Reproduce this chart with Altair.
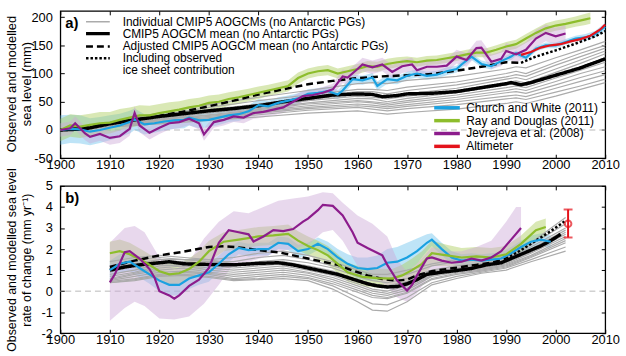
import altair as alt
import pandas as pd

FONT = "Liberation Sans"
W, H = 551, 149

# ---------------- categories / styling ----------------
OBS = ["Church and White (2011)", "Ray and Douglas (2011)", "Jevrejeva et al. (2008)", "Altimeter"]
OBS_COL = ["#1aa1e1", "#8dbd2c", "#8c1c8c", "#e4131b"]
BAND_OBS = OBS[:3]
BAND_COL = ["#6ec3ee", "#aacb5a", "#cda9d8"]
MODEL = ["Individual CMIP5 AOGCMs (no Antarctic PGs)", "CMIP5 AOGCM mean (no Antarctic PGs)",
         "Adjusted CMIP5 AOGCM mean (no Antarctic PGs)", "Including observed", "ice sheet contribution"]
MODEL_COL = ["#ababab", "black", "black", "black", "transparent"]
MODEL_DASH = [[1, 0], [1, 0], [7, 4], [2.5, 2], [1, 0]]
MODEL_W = [1.5, 3.5, 2.5, 2.5, 0]
GRAY = "#ababab"
X_TICKS = list(range(1900, 2011, 10))
YA_TICKS = [-50, 0, 50, 100, 150, 200]
YB_TICKS = [-2, -1, 0, 1, 2, 3, 4, 5]
TITLE_A = ["Observed and modelled", "sea level (mm)"]
TITLE_B = ["Observed and modelled sea level", "rate of change (mm yr\u207b\u00b9)"]

# ---------------- panel a data (mm) ----------------
CW_A_YEARS = [1900,1902,1904,1906,1908,1910,1912,1914,1915,1917,1919,1921,1923,1925,1926,1928,1930,1932,1934,1936,
              1938,1940,1942,1944,1946,1948,1950,1952,1954,1956,1957,1959,1961,1963,1964,1966,1968,1970,1972,1974,
              1976,1978,1980,1981,1983,1985,1987,1989,1991,1992,1994,1996,1998,2000,2002,2004,2006,2008,2010]
CW_A = [0,2,1,-3,0, 4,8,14,19,10, 12,15,17,18,22, 17,18,22,26,28, 33,44,42,48,52, 56,64,66,69,63,
        70,90,88,93,78, 90,88,96,100,96, 98,104,108,116,130, 117,113,122,130,136, 128,144,150,150,156, 162,164,170,183]
CW_A_ERR = [26,25,25,24,23, 22,21,20,19,18, 17,16,15,15,14, 14,13,13,12,12, 11,11,10,10,9, 9,8,8,8,8,
            8,8,8,8,8, 8,7,7,7,7, 7,7,6,6,6, 6,6,6,6,5, 5,5,5,5,5, 5,6,6,7]

RD_A_YEARS = [1900,1902,1904,1906,1908,1910,1912,1914,1916,1918,1920,1922,1924,1926,1928,1930,1932,1934,1936,1938,
              1940,1942,1944,1946,1948,1950,1952,1954,1956,1958,1960,1962,1964,1966,1968,1970,1972,1974,1976,1978,
              1980,1982,1984,1986,1988,1990,1992,1994,1996,1998,2000,2002,2004,2006,2007]
RD_A = [0,8,6,9,12, 13,18,22,26,26, 30,33,36,40,43, 48,50,55,58,62, 66,70,74,78,92, 100,104,106,100,104,
        108,113,112,117,120, 122,120,123,124,127, 130,134,137,137,142, 148,152,162,172,180, 185,188,192,196,198]
RD_A_ERR = [20,20,20,20,20, 19,19,18,18,17, 16,16,15,15,14, 13,13,12,12,11, 11,10,10,10,10, 9,9,9,9,9,
            9,9,9,9,9, 8,8,8,8,8, 8,8,8,8,8, 8,8,8,8,9, 9,9,9,10,10]

JV_A_YEARS = [1900,1902,1903,1905,1906,1908,1910,1912,1914,1915, 1916,1918,1920,1922,1924,1926,1928,1929,
              1931,1933,1935,1937,1939,1941,1943,1945,1947,1949, 1951,1953,1955,1957,1958,1960,1961,1963,1965,1967,
              1969,1971,1972,1974,1976,1978,1980,1982,1984,1985, 1987,1989,1990,1992,1994,1996,1998,2000,2002]
JV_A = [0,3,12,-6,-12,-7,-14,-11,2,30, 8,-5,4,12,14,20,12,-8, 14,18,24,22,30,32,36,40,50,60,
        62,66,72,95,93,108,116,111,116,103, 113,116,106,112,112,114,130,124,145,146, 121,126,140,134,142,162,172,166,171]
JV_A_ERR = [12,12,12,12,12,12,12,12,12,12, 12,12,11,11,11,11,11,11, 10,10,10,10,10,10,10,10,10,10,
            10,10,10,12,12,12,12,12,12,12, 12,12,12,12,12,12,12,12,13,13, 13,13,14,14,14,15,15,15,15]

ALT_YEARS = [1993,1995,1997,1999,2001,2003,2005,2007,2009,2010]
ALT_A = [133,138,146,150,152,157,161,167,178,187]

MEAN_A_YEARS = [1900,1905,1910,1915,1920,1925,1930,1935,1940,1945,1950,1955,1960,1963,1965,1968,1970,1975,1980,1985,
                1990,1991,1993,1995,2000,2005,2010]
MEAN_A = [0,2,11,18,24,29,34,38,43,50,56,62,64,63,59,61,64,65,68,75,82,84,80,84,97,110,126]
ADJ_A_YEARS = [1900,1905,1910,1915,1920,1925,1930,1935,1940,1945,1950,1955,1960,1965,1970,1975,1980,1985,1990,1993]
ADJ_A = [0,4,12,18,25,33,42,52,63,72,81,87,92,95,97,99,105,112,120,119]
ICE_A_YEARS = [1993,1996,2000,2004,2008,2010]
ICE_A = [119,130,141,153,166,175]

GRAY_A_YEARS = [1900,1910,1920,1930,1940,1950,1960,1963,1966,1970,1980,1990,1992,1994,2000,2005,2010]
GRAY_A = [
    [0,14,30,45,58,70,82,84,82,88,95,108,112,110,128,142,157],
    [0,12,26,40,52,62,72,72,70,76,85,100,104,100,120,136,150],
    [0,13,24,36,46,58,68,68,64,70,80,94,98,95,115,130,145],
    [0,10,22,33,42,54,63,62,58,64,74,90,93,89,108,124,140],
    [0,11,23,32,40,52,60,58,55,60,70,84,87,83,102,118,135],
    [0,9,20,30,38,48,56,55,50,56,66,80,82,79,96,112,128],
    [0,8,18,27,36,46,52,50,47,52,62,75,78,75,92,106,120],
    [0,10,19,26,34,43,50,48,44,49,58,70,73,70,86,100,112],
    [0,7,16,24,32,40,46,44,41,45,54,66,68,65,80,93,105],
    [0,8,15,22,30,38,43,41,38,42,50,60,62,59,74,86,98],
    [0,6,13,20,27,35,40,37,34,38,45,55,57,54,67,78,90],
    [0,5,11,17,23,30,34,31,28,31,37,47,50,47,60,72,84],
]

# ---------------- panel b data (mm/yr) ----------------
CW_B_YEARS = [1910,1912,1914,1916,1918,1920,1922,1924,1926,1928,1930,1932,1934,1936,1938,1940,1942,1944,1946,1948,
              1950,1952,1954,1956,1958,1960,1962,1964,1966,1968,1970,1972,1974,1975,1977,1979,1981,1983,1985,1987,
              1989,1991,1993,1995,1997,1999]
CW_B = [1.0,1.3,1.4,1.1,0.8, 0.5,0.3,0.3,0.6,0.75, 0.9,1.3,1.75,2.05,1.95, 2.0,2.0,2.3,2.25,1.9,
        2.0,2.25,2.0,1.6,1.3, 1.1,1.05,1.1,1.35,1.4, 1.6,1.9,2.3, 2.45,2.0,1.6,1.45,1.5,
        1.45,1.5,1.55,1.8,2.1, 2.35,2.45,2.35]
CW_B_ERR = [0.45,0.45,0.45,0.45,0.45, 0.5,0.5,0.5,0.5,0.45, 0.45,0.4,0.35,0.3,0.3, 0.3,0.3,0.3,0.3,0.3,
            0.3,0.3,0.35,0.4,0.45, 0.5,0.55,0.6,0.65,0.7, 0.7,0.6,0.4, 0.3,0.3,0.3,0.3,0.3,
            0.3,0.3,0.3,0.3,0.3, 0.3,0.3,0.3]

RD_B_YEARS = [1910,1912,1914,1917,1920,1922,1924,1926,1928,1930,1933,1936,1940,1943,1946,1948,1950,1952,1954,1956,
              1958,1961,1964,1967,1969,1971,1973,1975,1978,1981,1984,1987,1990,1993,1996,1998]
RD_B = [1.8,1.9,1.75,1.4,0.95,0.8,0.85,1.05,1.4,1.9, 2.35,2.45,2.6,2.65,2.72,2.4,2.15,1.95,1.7,1.3,
        0.9,0.68,0.62,0.6,0.75,1.0,1.3,1.8,1.7,1.6, 1.65,1.6,1.75,2.25,2.9,3.05]
RD_B_ERR = [0.55,0.55,0.55,0.5,0.5,0.5,0.5,0.5,0.5,0.5, 0.45,0.45,0.45,0.45,0.45,0.45,0.45,0.45,0.45,0.45,
            0.45,0.45,0.45,0.45,0.5,0.55,0.6,0.6,0.5,0.45, 0.45,0.45,0.4,0.4,0.4,0.4]

JV_B_YEARS = [1910,1911,1913,1914,1916,1918,1919,1920,1922,1923, 1924,1926,1928,1930,1931,1932,1934,1936,1938,1939,
              1941,1943,1945,1947,1949,1950,1952,1953,1955,1957, 1959,1960,1962,1965,1966,1968,1970,1971,1972,1974,
              1975,1977,1979,1981,1983,1985,1987,1989,1991,1993]
JV_B = [0.42,0.8,1.85,1.9,1.55,1.05,0.65,0.0,-0.2,-0.36, -0.2,0.25,0.55,1.1,1.7,2.3,2.9,2.8,2.7,2.36,
        2.6,2.9,2.85,2.95,3.3,3.45,3.85,4.1,4.05,3.6, 2.8,2.3,2.05,1.7,1.25,0.5,0.03,0.3,0.75,1.55,
        1.6,1.45,1.35,1.4,1.55,1.45,1.6,1.9,2.45,3.0]
JV_BAND_YEARS = [1910,1913,1915,1917,1920,1923,1926,1929,1932,1935,1938,1941,1944,1947,1950,1953,1955,1957,1960,1963,
                 1966,1968,1970,1972,1975,1978,1981,1984,1987,1990,1992,1993]
JV_BAND_LO = [-1.4,-0.8,-0.5,-0.7,-1.3,-1.35,-1.2,-0.6,0.3,1.3,1.4,1.6,1.9,2.0,2.2,2.8,2.9,2.4,1.2,0.8,
              0.2,-0.3,-0.5,-0.1,0.9,0.9,0.9,0.9,1.0,1.4,1.8,2.0]
JV_BAND_HI = [2.3,3.0,3.1,2.8,1.6,1.0,1.4,2.5,3.3,3.8,3.7,4.0,4.3,4.4,4.5,4.7,4.65,4.2,3.6,3.2,
              2.6,1.5,0.9,1.3,2.1,1.9,1.9,2.1,2.4,3.3,4.0,4.0]

MEAN_B_YEARS = [1910,1913,1916,1920,1922,1925,1930,1935,1940,1944,1947,1950,1953,1956,1958,1960,1962,1964,1966,1968,
                1970,1972,1974,1977,1980,1983,1986,1989,1991,1994,1997,1999,2001]
MEAN_B = [1.0,1.15,1.25,1.35,1.4,1.3,1.27,1.25,1.32,1.35,1.25,1.1,0.95,0.8,0.65,0.5,0.35,0.25,0.2,0.22,
          0.35,0.55,0.8,0.9,0.98,1.08,1.25,1.35,1.55,1.85,2.15,2.4,2.7]
ADJ_B_YEARS = [1910,1915,1920,1925,1930,1933,1936,1940,1944,1947,1950,1953,1956,1959,1962,1965,1968,1970,1972,1975,
               1978,1981,1984,1987,1990]
ADJ_B = [1.15,1.45,1.7,1.88,2.1,2.13,2.08,1.95,1.85,1.7,1.55,1.4,1.25,0.98,0.75,0.58,0.5,0.55,0.75,0.95,
         1.05,1.15,1.25,1.35,1.55]
ICE_B_YEARS = [1990,1993,1996,1999,2002]
ICE_B = [1.55,1.95,2.4,2.85,3.35]

GRAY_B_YEARS = [1910,1915,1920,1925,1930,1935,1940,1945,1950,1955,1960,1963,1966,1970,1975,1980,1985,1990,1995,2002]
GRAY_B = [
    [1.4,1.6,1.7,1.6,1.5,1.6,1.8,1.9,1.7,1.4,1.0,0.8,0.8,1.0,1.3,1.5,1.6,1.7,2.3,3.5],
    [1.2,1.5,1.6,1.5,1.4,1.4,1.6,1.7,1.5,1.2,0.85,0.7,0.6,0.8,1.2,1.4,1.5,1.6,2.2,3.2],
    [1.1,1.3,1.5,1.5,1.5,1.3,1.4,1.5,1.35,1.1,0.7,0.5,0.4,0.6,1.0,1.2,1.3,1.5,2.1,3.0],
    [0.9,1.2,1.4,1.4,1.3,1.2,1.3,1.4,1.2,0.95,0.55,0.35,0.25,0.45,0.95,1.1,1.25,1.45,2.0,2.9],
    [0.8,1.0,1.3,1.3,1.2,1.1,1.2,1.3,1.1,0.85,0.45,0.25,0.15,0.35,0.9,1.05,1.2,1.4,1.9,2.8],
    [0.7,0.9,1.2,1.25,1.1,1.0,1.1,1.2,1.0,0.75,0.35,0.1,0.0,0.25,0.8,1.0,1.15,1.35,1.85,2.7],
    [0.6,0.85,1.1,1.2,1.0,0.9,1.0,1.1,0.9,0.65,0.25,0.0,-0.1,0.15,0.75,0.95,1.1,1.3,1.8,2.6],
    [0.55,0.8,1.0,1.1,0.9,0.8,0.9,1.0,0.85,0.55,0.15,-0.1,-0.2,0.05,0.7,0.9,1.05,1.25,1.7,2.5],
    [0.5,0.7,0.9,0.95,0.85,0.7,0.8,0.9,0.75,0.45,0.05,-0.2,-0.3,-0.05,0.6,0.85,1.0,1.2,1.65,2.4],
    [0.45,0.6,0.8,0.9,0.8,0.6,0.7,0.8,0.65,0.35,-0.05,-0.3,-0.35,-0.1,0.55,0.8,0.95,1.15,1.6,2.3],
    [0.4,0.55,0.75,0.8,0.7,0.55,0.6,0.7,0.6,0.25,-0.3,-0.6,-0.65,-0.3,0.4,0.7,0.9,1.1,1.5,2.1],
    [0.4,0.5,0.7,0.75,0.65,0.5,0.55,0.6,0.5,0.1,-0.5,-0.9,-0.95,-0.5,0.3,0.6,0.85,1.0,1.4,1.9],
]

ALT_RATE_YEAR = [2002.5]
ALT_RATE = [3.2]
ALT_RATE_LO = [2.55]
ALT_RATE_HI = [3.88]


# ---------------- helpers to build tables ----------------
def line_df(years, vals, **cols):
    d = pd.DataFrame({"year": years, "v": vals})
    for k, c in cols.items():
        d[k] = c
    return d


def band_df(years, vals, errs, name):
    d = pd.DataFrame({"year": years, "v": vals, "e": errs})
    d["lo"] = d["v"] - d["e"]
    d["hi"] = d["v"] + d["e"]
    d["obs"] = name
    return d


def gray_df(years, rows):
    return pd.concat([line_df(years, r, model=f"m{i}") for i, r in enumerate(rows)], ignore_index=True)


XS = alt.Scale(domain=[1900, 2010], nice=False, zero=False)
YA = alt.Scale(domain=[-50, 211], nice=False, zero=False)
YB = alt.Scale(domain=[-2, 5], nice=False, zero=False)

AX_BOTTOM = alt.Axis(orient="bottom", values=X_TICKS, format="d", labelPadding=0.5, labelFlush=False, title=None)
AX_TOP = alt.Axis(orient="top", values=X_TICKS, labels=False, title=None)


def left_axis(ticks):
    return alt.Axis(orient="left", values=ticks, labelExpr="'' + datum.value", labelPadding=8,
                    labelFlush=False, title=None)


def right_axis(ticks):
    return alt.Axis(orient="right", values=ticks, labels=False, title=None)


# long thin legend symbols: a wide path drawn on a small symbol size keeps the rows tight
LEG_MODEL = alt.Legend(orient="none", legendX=32, legendY=5, title=None, symbolType="M-3,0H3",
                       symbolSize=64, labelFontSize=12, rowPadding=-1, labelOffset=19, labelLimit=0,
                       padding=0)
LEG_OBS = alt.Legend(orient="none", legendX=385, legendY=92, title=None, symbolType="M-3.7,0H3.7",
                     symbolSize=49, symbolStrokeWidth=3.5, labelFontSize=12, rowPadding=-1.2,
                     labelOffset=13.5, labelLimit=0, padding=0)


def text_at(txt, x, y, **kw):
    return alt.Chart(pd.DataFrame({"t": [txt]})).mark_text(font=FONT, color="black", **kw).encode(
        text="t:N", x=alt.value(x), y=alt.value(y))


def panel(yscale, yticks, ytitle, title_y, title_size, bands, grays, models, obs, tag, show_legend, extra=()):
    zero = alt.Chart(pd.DataFrame({"z": [0]})).mark_rule(
        color="#b8b8b8", strokeDash=[6, 4], strokeWidth=1).encode(
        y=alt.Y("z:Q", scale=yscale, axis=None))
    band_layer = alt.Chart(bands).mark_area(opacity=0.45).encode(
        x=alt.X("year:Q", scale=XS, axis=AX_BOTTOM),
        y=alt.Y("lo:Q", scale=yscale, axis=left_axis(yticks)),
        y2="hi:Q",
        color=alt.Color("obs:N", scale=alt.Scale(domain=BAND_OBS, range=BAND_COL), legend=None),
        detail="obs:N")
    gray_layer = alt.Chart(grays).mark_line(color=GRAY, strokeWidth=1.2).encode(
        x=alt.X("year:Q", scale=XS, axis=AX_TOP),
        y=alt.Y("v:Q", scale=yscale, axis=right_axis(yticks)),
        detail="model:N")
    leg_m = LEG_MODEL if show_legend else None
    model_layer = alt.Chart(models).mark_line().encode(
        x=alt.X("year:Q", scale=XS, axis=None),
        y=alt.Y("v:Q", scale=yscale, axis=None),
        color=alt.Color("series:N", scale=alt.Scale(domain=MODEL, range=MODEL_COL), legend=leg_m),
        strokeDash=alt.StrokeDash("series:N", scale=alt.Scale(domain=MODEL, range=MODEL_DASH), legend=leg_m),
        strokeWidth=alt.StrokeWidth("series:N", scale=alt.Scale(type="ordinal", domain=MODEL, range=MODEL_W),
                                    legend=leg_m))
    leg_o = LEG_OBS if show_legend else None
    obs_layer = alt.Chart(obs).mark_line(strokeWidth=2.2).encode(
        x=alt.X("year:Q", scale=XS, axis=None),
        y=alt.Y("v:Q", scale=yscale, axis=None),
        color=alt.Color("obs:N", scale=alt.Scale(domain=OBS, range=OBS_COL), legend=leg_o))
    label = text_at(tag, 5, 12, align="left", baseline="middle", fontSize=15, fontWeight="bold")
    t1 = text_at(ytitle[0], -49, title_y, angle=270, align="center", baseline="middle", fontSize=title_size)
    t2 = text_at(ytitle[1], -34, title_y, angle=270, align="center", baseline="middle", fontSize=title_size)
    layers = [zero, band_layer, gray_layer, model_layer, obs_layer, *extra, label, t1, t2]
    return alt.layer(*layers).resolve_scale(
        color="independent", strokeDash="independent", strokeWidth="independent").resolve_axis(
        x="independent", y="independent").properties(width=W, height=H)


# ---------- panel a ----------
bands_a = pd.concat([band_df(CW_A_YEARS, CW_A, CW_A_ERR, OBS[0]),
                     band_df(RD_A_YEARS, RD_A, RD_A_ERR, OBS[1]),
                     band_df(JV_A_YEARS, JV_A, JV_A_ERR, OBS[2])], ignore_index=True)
models_a = pd.concat([line_df(MEAN_A_YEARS, MEAN_A, series=MODEL[1]),
                      line_df(ADJ_A_YEARS, ADJ_A, series=MODEL[2]),
                      line_df(ICE_A_YEARS, ICE_A, series=MODEL[3])], ignore_index=True)
obs_a = pd.concat([line_df(CW_A_YEARS, CW_A, obs=OBS[0]),
                   line_df(RD_A_YEARS, RD_A, obs=OBS[1]),
                   line_df(JV_A_YEARS, JV_A, obs=OBS[2]),
                   line_df(ALT_YEARS, ALT_A, obs=OBS[3])], ignore_index=True)
pa = panel(YA, YA_TICKS, TITLE_A, 74, 13,
           bands_a, gray_df(GRAY_A_YEARS, GRAY_A), models_a, obs_a, "a)", True)

# ---------- panel b ----------
jv_band_b = pd.DataFrame({"year": JV_BAND_YEARS, "lo": JV_BAND_LO, "hi": JV_BAND_HI, "obs": OBS[2]})
bands_b = pd.concat([band_df(CW_B_YEARS, CW_B, CW_B_ERR, OBS[0]),
                     band_df(RD_B_YEARS, RD_B, RD_B_ERR, OBS[1]),
                     jv_band_b], ignore_index=True)
models_b = pd.concat([line_df(MEAN_B_YEARS, MEAN_B, series=MODEL[1]),
                      line_df(ADJ_B_YEARS, ADJ_B, series=MODEL[2]),
                      line_df(ICE_B_YEARS, ICE_B, series=MODEL[3])], ignore_index=True)
obs_b = pd.concat([line_df(CW_B_YEARS, CW_B, obs=OBS[0]),
                   line_df(RD_B_YEARS, RD_B, obs=OBS[1]),
                   line_df(JV_B_YEARS, JV_B, obs=OBS[2])], ignore_index=True)

err_df = pd.DataFrame({"year": ALT_RATE_YEAR, "v": ALT_RATE, "lo": ALT_RATE_LO, "hi": ALT_RATE_HI})
cap_df = pd.DataFrame({"year": ALT_RATE_YEAR * 2, "c": ALT_RATE_LO + ALT_RATE_HI})
RED = OBS_COL[3]
err_rule = alt.Chart(err_df).mark_rule(color=RED, strokeWidth=2).encode(
    x=alt.X("year:Q", scale=XS, axis=None), y=alt.Y("lo:Q", scale=YB, axis=None), y2="hi:Q")
err_caps = alt.Chart(cap_df).mark_tick(color=RED, orient="horizontal", size=9, thickness=2).encode(
    x=alt.X("year:Q", scale=XS, axis=None), y=alt.Y("c:Q", scale=YB, axis=None))
err_pt = alt.Chart(err_df).mark_point(color=RED, shape="circle", filled=False, size=45, strokeWidth=2).encode(
    x=alt.X("year:Q", scale=XS, axis=None), y=alt.Y("v:Q", scale=YB, axis=None))

pb = panel(YB, YB_TICKS, TITLE_B, 75, 12.5,
           bands_b, gray_df(GRAY_B_YEARS, GRAY_B), models_b, obs_b, "b)", False,
           extra=(err_rule, err_caps, err_pt))

chart = alt.vconcat(pa, pb, spacing=28, bounds="flush").resolve_scale(
    color="independent", strokeDash="independent", strokeWidth="independent").properties(
    padding={"left": 5, "top": 7, "right": 5, "bottom": 2}).configure(font=FONT).configure_view(
    stroke="black", strokeWidth=1.3).configure_axis(
    labelFont=FONT, labelFontSize=13, labelColor="black", tickColor="black", tickSize=4, tickWidth=1,
    domain=False, grid=False, offset=-4).configure_legend(labelFont=FONT, labelColor="black")

chart.save("out.html", embed_options={"renderer": "svg", "actions": False})
